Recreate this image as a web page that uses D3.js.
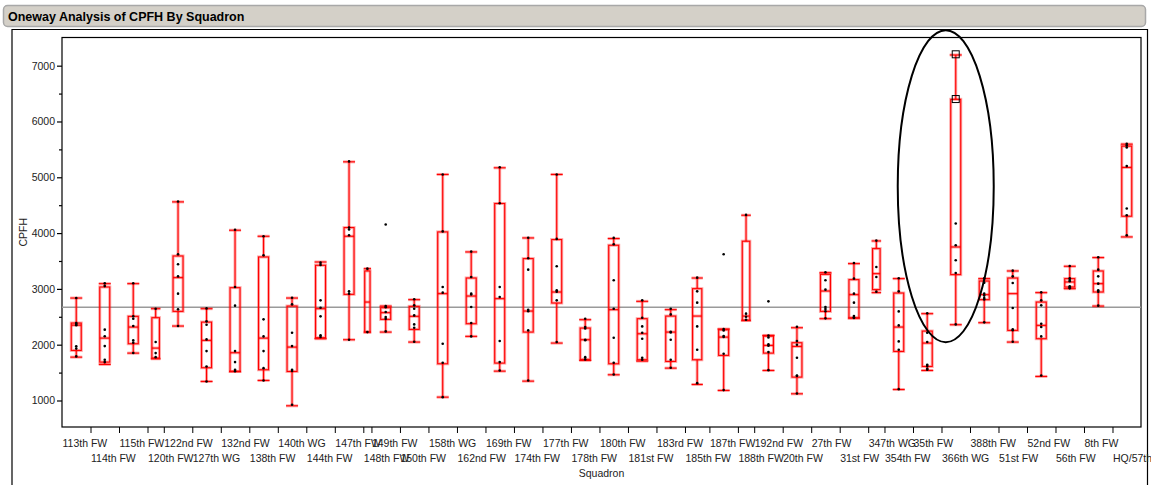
<!DOCTYPE html>
<html lang="en">
<head>
<meta charset="UTF-8">
<title>Oneway Analysis of CPFH By Squadron</title>
<script src="https://d3js.org/d3.v7.min.js"></script>
<style>
    body { margin: 0; background: #ffffff; font-family: "Liberation Sans", Arial, sans-serif; }
    svg text { font-family: "Liberation Sans", Arial, sans-serif; }
</style>
</head>
<body>
<svg id="chart" width="1151" height="485"></svg>
<script>
// squadrons in axis order, with sample counts (x interval widths are proportional to n)
const squadrons = ["113th FW","114th FW","115th FW","120th FW","122nd FW","127th WG","132nd FW","138th FW",
    "140th WG","144th FW","147th FW","148th FW","149th FW","150th FW","158th WG","162nd FW","169th FW",
    "174th FW","177th FW","178th FW","180th FW","181st FW","183rd FW","185th FW","187th FW","188th FW",
    "192nd FW","20th FW","27th FW","31st FW","347th WG","354th FW","35th FW","366th WG","388th FW",
    "51st FW","52nd FW","56th FW","8th FW","HQ/57th"];
const counts = [7,7,7,4,7,7,7,7,7,7,7,2,7,7,7,7,7,7,7,7,7,7,7,6,7,4,7,7,7,7,4,7,7,7,7,7,7,7,7,7];

// quantile box values
const whiskLo = [1777,1646,1849,1748,2334,1341,1520,1359,905,2107,2089,2226,2226,2047,1060,2149,1526,
    1347,2029,1718,1461,1706,1580,1287,1180,2436,1538,1120,2466,2478,2933,1197,1538,2358,2394,2047,1431,3004,2692,3931];
const q1 = [1897,1688,2017,1760,2597,1587,1520,1551,1520,2125,2902,2226,2454,2274,1658,2376,1670,
    2226,2747,1736,1658,1730,1700,1730,1808,2436,1849,1419,2597,2478,2987,1879,1610,3256,2807,2256,2107,3034,2944,4302];
const medians = [2350,2118,2316,1939,3202,2077,1856,2118,1957,2645,3943,2764,2574,2508,2915,2872,2825,
    2603,2944,2089,2628,2196,2226,2513,2136,2513,1987,1969,2962,2897,3273,2316,2029,3751,2897,2915,2346,3124,3094,5176];
const q3 = [2388,3034,2508,2484,3590,2405,3022,3572,2692,3423,4099,3321,2663,2687,4021,3195,4530,
    3543,3884,2298,3782,2466,2513,3004,2268,3854,2154,2035,3261,3166,3722,2926,2244,6397,3141,3195,2764,3184,3321,5558];
const whiskHi = [2836,3094,3094,2645,4559,2645,4051,3943,2836,3482,5277,3363,2692,2807,5051,3662,5170,
    3913,5051,2448,3902,2777,2628,3195,2280,4320,2166,2304,3291,3453,3859,3184,2556,7192,3184,3321,2933,3405,3561,5594];

// individual CPFH values per squadron
const points = [
    [2836,2390,2370,2350,1970,1930,1790],
    [3100,3050,2270,2150,1975,1730,1690],
    [3100,2510,2466,2334,2077,2035,1850],
    [2645,2047,1849,1777],
    [4565,3620,3441,3225,2915,2633,2334],
    [2650,2418,2358,2095,1885,1610,1341],
    [4060,3034,2700,1885,1688,1551,1526],
    [3943,3602,2454,2149,1885,1580,1359],
    [2840,2723,2215,1975,1551,1530,923],
    [3470,3430,2795,2663,2508,2167,2140],
    [5285,4099,4063,3961,2956,2915,2089],
    [3363,2226],
    [4153,2692,2670,2585,2495,2463,2238],
    [2813,2705,2645,2525,2364,2304,2053],
    [5051,4030,3034,2933,2017,1676,1060],
    [3668,3213,2915,2900,2675,2388,2149],
    [5180,4536,3034,2854,2065,1688,1538],
    [3916,3549,3345,2627,2600,2256,1359],
    [5051,3896,3405,2974,2950,2795,2047],
    [2466,2316,2290,2089,2080,1777,1736],
    [3914,3800,3154,2645,2125,1676,1467],
    [2795,2484,2328,2215,2107,1766,1730],
    [2645,2543,2232,2220,2089,1730,1586],
    [3201,2956,2753,2328,1909,1311],
    [3620,2280,2256,2154,2140,1838,1186],
    [4326,2556,2500,2448],
    [2777,2166,2130,2005,1980,1867,1544],
    [2322,2065,2000,1766,1449,1440,1126],
    [3297,3154,2986,2675,2640,2600,2472],
    [3464,3184,2915,2753,2513,2490,2480],
    [3865,3393,3213,2950],
    [3190,2956,2597,2346,2059,1909,1203],
    [2562,2215,2047,1640,1620,1568,1550],
    [7204,6402,4171,3782,3513,3285,2364],
    [3190,3112,2915,2880,2836,2810,2400],
    [3327,3225,3105,2657,2274,2260,2053],
    [2938,2795,2705,2376,2316,2149,1449],
    [3411,3190,3160,3136,3046,3030,3010],
    [3567,3345,3225,3094,2974,2950,2700],
    [5600,5570,5535,5200,4440,4320,3961]
];
// values highlighted with square markers
const markedSquadron = "366th WG";
const markedValues = [7204, 6402];

const grandMean = 2670;
const yTicks = [1000,2000,3000,4000,5000,6000,7000];
const yMinor = [1500,2500,3500,4500,5500,6500];

const svg = d3.select("#chart");
const textCol = "#222";

// title bar
svg.append("rect").attr("x", 3.5).attr("y", 5.5).attr("width", 1142).attr("height", 21)
    .attr("rx", 4).attr("fill", "#d4d0c8").attr("stroke", "#a8a8a8").attr("stroke-width", 1.5);
svg.append("text").attr("x", 8).attr("y", 21).attr("font-size", "12.5px").attr("font-weight", "bold")
    .attr("fill", "#000").text("Oneway Analysis of CPFH By Squadron");

// outer outline box
svg.append("path").attr("d", "M12,490 V29.5 H1147.5 V490")
    .attr("fill", "none").attr("stroke", "#000").attr("stroke-width", 1.2);

const plot = {left: 62, right: 1141, top: 37.5, bottom: 427};

const bounds = [0, ...d3.cumsum(counts)];
const x = d3.scaleLinear().domain([0, d3.sum(counts)]).range([plot.left, plot.right]);
const y = d3.scaleLinear().domain([525, 7505]).range([plot.bottom, plot.top]);
const boxW = d3.scaleSqrt().domain([0, 7]).range([0, 10]);

// y axis
const yAxis = svg.append("g").attr("transform", `translate(${plot.left},0)`)
    .call(d3.axisLeft(y).tickValues(yTicks).tickSize(5).tickPadding(2).tickFormat(d3.format("d")));
yAxis.select(".domain").remove();
yAxis.selectAll("line").attr("stroke", "#000").attr("stroke-width", 1.2);
yAxis.selectAll("text").attr("fill", textCol).attr("font-size", "10.5px")
    .attr("font-family", "'Liberation Sans', Arial, sans-serif");
const yMin = svg.append("g").attr("transform", `translate(${plot.left},0)`)
    .call(d3.axisLeft(y).tickValues(yMinor).tickSize(3).tickFormat(""));
yMin.select(".domain").remove();
yMin.selectAll("line").attr("stroke", "#000").attr("stroke-width", 1.2);

svg.append("text").attr("transform", `translate(27,${(plot.top + plot.bottom) / 2}) rotate(-90)`)
    .attr("text-anchor", "middle").attr("font-size", "10.5px").attr("fill", textCol).text("CPFH");

// x axis: ticks at level boundaries
const xAxis = svg.append("g").attr("transform", `translate(0,${plot.bottom})`)
    .call(d3.axisBottom(x).tickValues(bounds.slice(1, -1)).tickSize(6).tickFormat(""));
xAxis.select(".domain").remove();
xAxis.selectAll("line").attr("stroke", "#000");

svg.append("g").selectAll("text").data(squadrons).join("text")
    .attr("x", (d, i) => x(bounds[i]) + 0.5)
    .attr("y", (d, i) => i % 2 === 0 ? 447 : 462)
    .attr("font-size", "10.5px").attr("fill", textCol)
    .text(d => d);

svg.append("text").attr("x", (plot.left + plot.right) / 2).attr("y", 477)
    .attr("text-anchor", "middle").attr("font-size", "10.5px").attr("fill", textCol).text("Squadron");

// plot frame
svg.append("rect").attr("x", plot.left).attr("y", plot.top)
    .attr("width", plot.right - plot.left).attr("height", plot.bottom - plot.top)
    .attr("fill", "none").attr("stroke", "#000").attr("stroke-width", 1.2);

// grand mean
svg.append("line").attr("x1", plot.left).attr("x2", plot.right)
    .attr("y1", y(grandMean)).attr("y2", y(grandMean))
    .attr("stroke", "#9a9a9a").attr("stroke-width", 1.5);

// boxes
const rows = squadrons.map((s, i) => ({
    name: s, i, n: counts[i],
    cx: x((bounds[i] + bounds[i + 1]) / 2),
    w: boxW(counts[i]),
    lo: whiskLo[i], q1: q1[i], med: medians[i], q3: q3[i], hi: whiskHi[i],
    pts: points[i]
}));

const g = svg.append("g").selectAll("g").data(rows).join("g");

[["rgba(255,0,0,0.35)", 3], ["#ff0000", 1.1]].forEach(([col, sw]) => {
    g.append("line").attr("x1", d => d.cx).attr("x2", d => d.cx)
        .attr("y1", d => y(d.hi)).attr("y2", d => y(d.q3)).attr("stroke", col).attr("stroke-width", sw);
    g.append("line").attr("x1", d => d.cx).attr("x2", d => d.cx)
        .attr("y1", d => y(d.q1)).attr("y2", d => y(d.lo)).attr("stroke", col).attr("stroke-width", sw);
    g.append("line").attr("x1", d => d.cx - d.w / 2 - 1).attr("x2", d => d.cx + d.w / 2 + 1)
        .attr("y1", d => y(d.hi)).attr("y2", d => y(d.hi)).attr("stroke", col).attr("stroke-width", sw);
    g.append("line").attr("x1", d => d.cx - d.w / 2 - 1).attr("x2", d => d.cx + d.w / 2 + 1)
        .attr("y1", d => y(d.lo)).attr("y2", d => y(d.lo)).attr("stroke", col).attr("stroke-width", sw);
    g.append("rect").attr("x", d => d.cx - d.w / 2).attr("width", d => d.w)
        .attr("y", d => y(d.q3)).attr("height", d => Math.max(0.5, y(d.q1) - y(d.q3)))
        .attr("fill", "none").attr("stroke", col).attr("stroke-width", sw);
    g.append("line").attr("x1", d => d.cx - d.w / 2).attr("x2", d => d.cx + d.w / 2)
        .attr("y1", d => y(d.med)).attr("y2", d => y(d.med)).attr("stroke", col).attr("stroke-width", sw);
});

// points
g.selectAll("circle").data(d => d.pts.map(v => ({v, cx: d.cx, name: d.name})))
    .join("circle")
    .filter(p => !(p.name === markedSquadron && markedValues.includes(p.v)))
    .attr("cx", p => p.cx).attr("cy", p => y(p.v)).attr("r", 1.3).attr("fill", "#000");

const markRow = rows.find(r => r.name === markedSquadron);
svg.append("g").selectAll("rect").data(markedValues).join("rect")
    .attr("x", markRow.cx - 3.5).attr("y", v => y(v) - 3.5).attr("width", 7).attr("height", 7)
    .attr("fill", "none").attr("stroke", "#000").attr("stroke-width", 1);

// annotation ellipse around 366th WG
svg.append("ellipse").attr("cx", markRow.cx - 10).attr("cy", y(4840)).attr("rx", 48).attr("ry", 156)
    .attr("fill", "none").attr("stroke", "#000").attr("stroke-width", 2);
</script>
</body>
</html>
